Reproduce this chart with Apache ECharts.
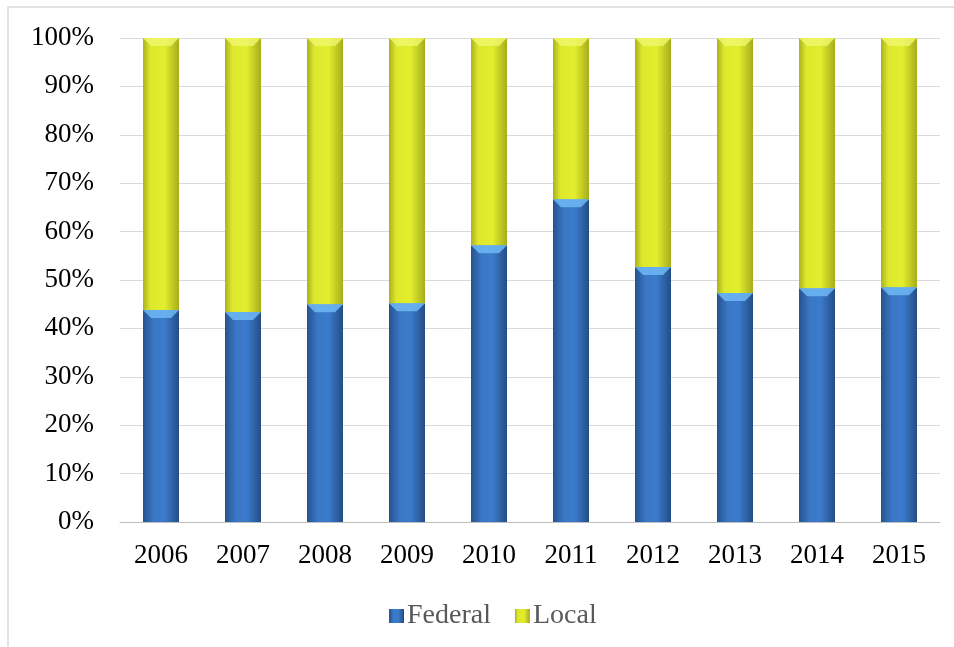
<!DOCTYPE html>
<html>
<head>
<meta charset="utf-8">
<script src="https://cdn.jsdelivr.net/npm/echarts@6/dist/echarts.min.js"></script>
<style>html,body{margin:0;padding:0;background:#fff;}#c{width:954px;height:647px;}</style>
</head>
<body>
<div id="c"></div>
<script>
const years = ['2006','2007','2008','2009','2010','2011','2012','2013','2014','2015'];
const federal = [43.8, 43.4, 45.0, 45.2, 57.2, 66.7, 52.7, 47.3, 48.3, 48.5];
const local = [56.2, 56.6, 55.0, 54.8, 42.8, 33.3, 47.3, 52.7, 51.7, 51.5];
const yTicks = [0,10,20,30,40,50,60,70,80,90,100];

const chart = echarts.init(document.getElementById('c'));
const blue = new echarts.graphic.LinearGradient(0,0,1,0,[
  {offset:0,color:'#25528f'},{offset:0.3,color:'#3a78c6'},{offset:0.6,color:'#3c7bcb'},{offset:1,color:'#234d86'}]);
const yellow = new echarts.graphic.LinearGradient(0,0,1,0,[
  {offset:0,color:'#aab21c'},{offset:0.2,color:'#dde72c'},{offset:0.6,color:'#e3ee2e'},{offset:1,color:'#a5ad1b'}]);
const bevelData = years.map((y,i)=>[i, federal[i], federal[i]+local[i]]);
function bevel(x, y, fill){
  return {type:'polygon',shape:{points:[[x-18,y],[x+18,y],[x+10,y+8],[x-10,y+8]]},style:{fill:fill},silent:true};
}
chart.setOption({
  backgroundColor:'#fff',
  animation:false,
  textStyle:{fontFamily:'Liberation Serif'},
  graphic:[{type:'rect',shape:{x:8,y:7,width:1000,height:700},style:{fill:'none',stroke:'#d9d9d9',lineWidth:1.5},silent:true}],
  grid:{left:120,right:14,top:38,bottom:125},
  legend:{top:597,left:384,itemWidth:15,itemHeight:14,itemGap:24,icon:'rect',
    textStyle:{fontFamily:'Liberation Serif',fontSize:28,color:'#595959',padding:[0,0,0,-2]},
    data:[{name:'Federal',itemStyle:{color:blue}},{name:'Local',itemStyle:{color:yellow}}]},
  xAxis:{type:'category',data:years,axisTick:{show:false},
    axisLine:{lineStyle:{color:'#bfbfbf',width:1}},
    axisLabel:{fontFamily:'Liberation Serif',fontSize:27,color:'#000',margin:20}},
  yAxis:{type:'value',min:0,max:100,interval:10,
    axisLabel:{fontFamily:'Liberation Serif',fontSize:27,color:'#000',margin:26,
      formatter:v=>yTicks.includes(v)?v+'%':''},
    axisLine:{show:false},axisTick:{show:false},
    splitLine:{lineStyle:{color:'#d9d9d9',width:1}}},
  series:[
    {name:'Federal',type:'bar',stack:'a',barWidth:36,data:federal,itemStyle:{color:blue}},
    {name:'Local',type:'bar',stack:'a',barWidth:36,data:local,itemStyle:{color:yellow}},
    {type:'custom',data:bevelData,silent:true,z:5,
      renderItem:function(params, api){
        const p1 = api.coord([api.value(0), api.value(1)]);
        const p2 = api.coord([api.value(0), api.value(2)]);
        return {type:'group',children:[bevel(p1[0],p1[1],'rgba(110,185,245,0.85)'),bevel(p2[0],p2[1],'rgba(240,248,110,0.8)')]};
      }}
  ]
});
</script>
</body>
</html>
